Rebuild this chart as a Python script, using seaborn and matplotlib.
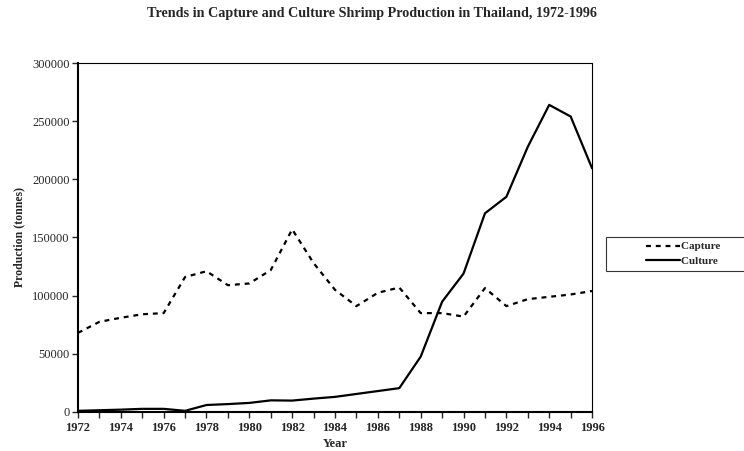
import matplotlib.pyplot as plt
import seaborn as sns
import pandas as pd
from matplotlib.ticker import MultipleLocator
from matplotlib.legend_handler import HandlerTuple

years = list(range(1972, 1997))
capture = [68000, 77500, 81000, 84000, 85000, 116000, 121000, 109000, 110500, 122000,
           157000, 128000, 105000, 91000, 102500, 107000, 85000, 85000, 82000, 106500,
           91000, 97000, 99000, 101000, 104000]
culture = [1000, 1500, 2000, 2700, 2700, 1000, 6000, 6800, 7800, 10000,
           9800, 11500, 13000, 15500, 18000, 20500, 47600, 94800, 119000, 170800,
           185000, 228000, 264000, 254000, 209500]

df = pd.DataFrame({"Year": years * 2,
                   "Production": capture + culture,
                   "Series": ["Capture"] * len(years) + ["Culture"] * len(years)})

sns.set_style("white")
plt.rcParams["font.family"] = ["Liberation Serif", "DejaVu Serif"]

fig = plt.figure(figsize=(7.44, 4.51), dpi=100)
ax = fig.add_axes([0.1048, 0.0865, 0.691, 0.7738])

sns.lineplot(data=df, x="Year", y="Production", style="Series", color="black",
             dashes={"Capture": (2.2, 2.2), "Culture": ""}, linewidth=1.6, ax=ax,
             legend=False)

ax.set_xlim(1972, 1996)
ax.set_ylim(0, 300000)
ax.xaxis.set_major_locator(MultipleLocator(2))
ax.xaxis.set_minor_locator(MultipleLocator(1))
ax.yaxis.set_major_locator(MultipleLocator(50000))
ax.tick_params(axis="x", which="both", direction="out", length=4, width=1, bottom=True,
               labelsize=9, pad=3)
ax.tick_params(axis="y", direction="out", length=4, width=1, left=True, labelsize=9, pad=2)
for lbl in ax.get_xticklabels():
    lbl.set_fontweight("bold")
for s in ["left", "bottom"]:
    ax.spines[s].set_linewidth(1.5)
    ax.spines[s].set_color("black")
for s in ["top", "right"]:
    ax.spines[s].set_linewidth(0.8)
    ax.spines[s].set_color("black")

ax.set_xlabel("Year", fontsize=9, fontweight="bold", labelpad=3)
ax.set_ylabel("Production (tonnes)", fontsize=8.5, fontweight="bold", labelpad=5)
fig.suptitle("Trends in Capture and Culture Shrimp Production in Thailand, 1972-1996",
             fontsize=10.2, fontweight="bold", x=0.5, y=0.985)

# blank first half of each handle gives the wide left margin of the legend box
blank = plt.Line2D([], [], color="none")
h = [(blank, plt.Line2D([], [], color="black", lw=1.6, dashes=(2.2, 2.2))),
     (blank, plt.Line2D([], [], color="black", lw=1.6))]
leg = fig.legend(h, ["Capture        ", "Culture        "], loc="center",
                 bbox_to_anchor=(0.91, 0.437), frameon=True, fancybox=False,
                 edgecolor="black", prop={"weight": "bold", "size": 8},
                 handler_map={tuple: HandlerTuple(ndivide=None, pad=0)},
                 handlelength=6.2, handletextpad=0.1, labelspacing=0.45,
                 borderpad=0.45, borderaxespad=0)
leg.get_frame().set_linewidth(0.8)

fig.savefig("out.png", dpi=100)
